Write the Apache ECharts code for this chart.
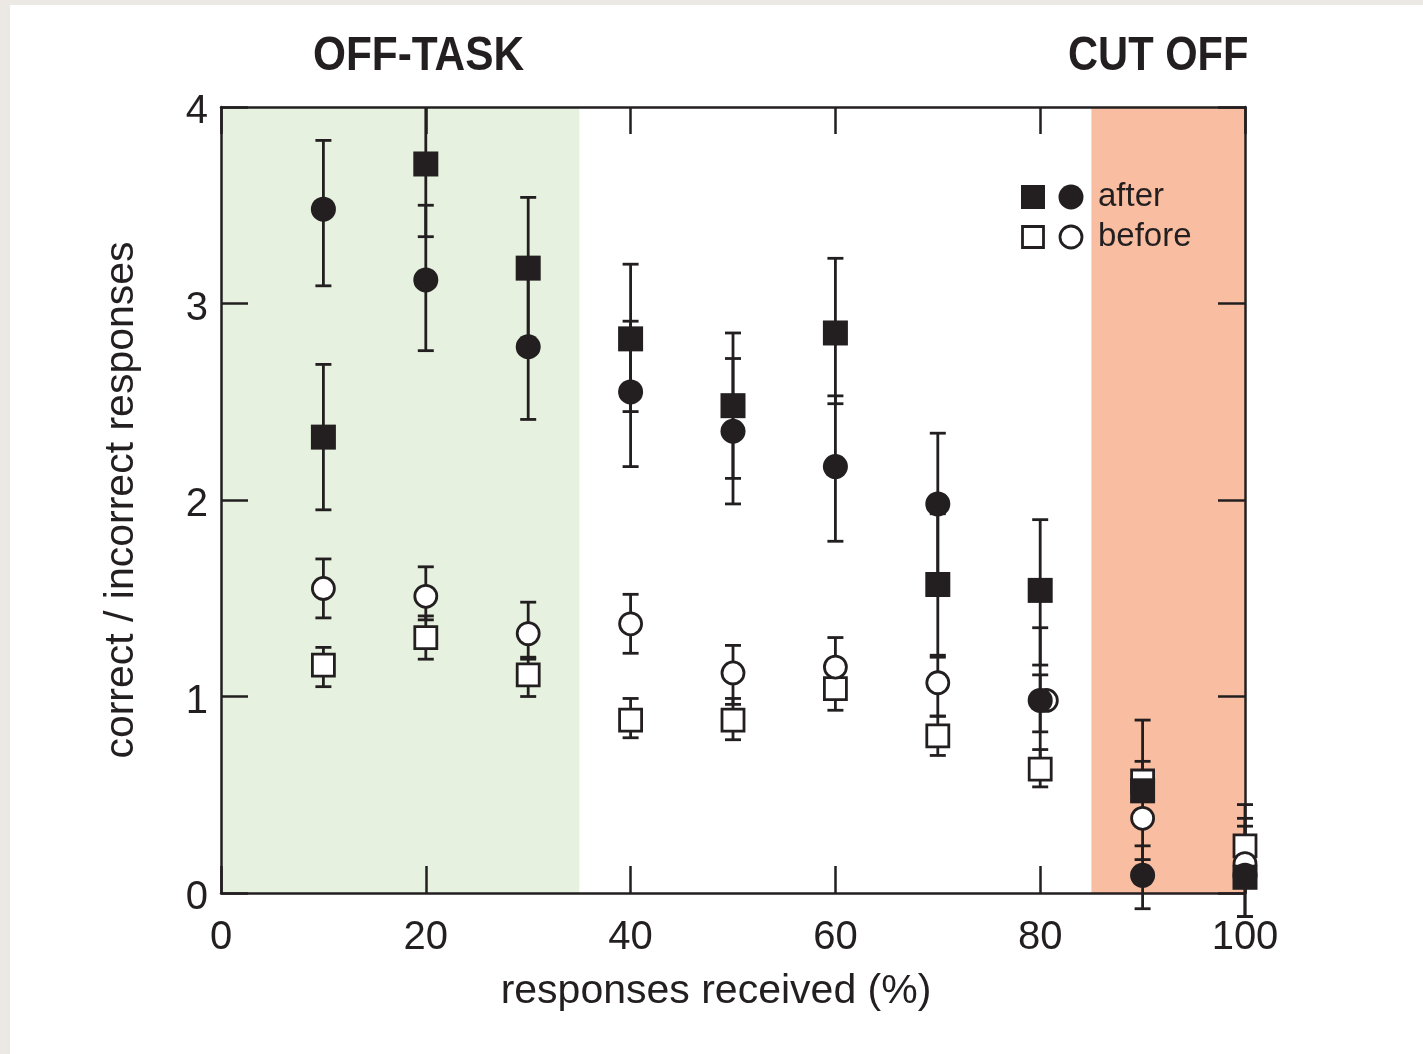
<!DOCTYPE html>
<html>
<head>
<meta charset="utf-8">
<script src="https://cdn.jsdelivr.net/npm/echarts@6/dist/echarts.min.js"></script>
<style>
html,body{margin:0;padding:0;background:#ffffff;}
#edgeL{position:absolute;left:0;top:0;width:10px;height:1054px;background:#ece9e4;}
#edgeT{position:absolute;left:0;top:0;width:1423px;height:5px;background:#ece9e4;}
#chart{position:absolute;left:0;top:0;width:1423px;height:1054px;}
</style>
</head>
<body>
<div id="edgeL"></div><div id="edgeT"></div>
<div id="chart"></div>
<script>
// ---- data ----
const xCats = [10, 20, 30, 40, 50, 60, 70, 80, 90, 100];
const xTicks = [0, 20, 40, 60, 80, 100];
const yTicks = [0, 1, 2, 3, 4];

// filled squares ("after")
const afterSq      = [2.32, 3.71, 3.18, 2.82, 2.48, 2.85, 1.57, 1.54, 0.52, 0.08];
const afterSqLow   = [1.95, 3.34, 2.81, 2.45, 2.11, 2.49, 1.21, 1.16, 0.17, -0.12];
const afterSqHigh  = [2.69, 4.00, 3.54, 3.20, 2.85, 3.23, 1.93, 1.90, 0.88, 0.28];

// filled circles ("after")
const afterCi      = [3.48, 3.12, 2.78, 2.55, 2.35, 2.17, 1.98, 0.98, 0.09, 0.09];
const afterCiLow   = [3.09, 2.76, 2.41, 2.17, 1.98, 1.79, 1.61, 0.61, -0.08, -0.12];
const afterCiHigh  = [3.83, 3.50, 3.14, 2.91, 2.72, 2.53, 2.34, 1.35, 0.24, 0.45];

// open squares ("before")
const beforeSq     = [1.16, 1.30, 1.11, 0.88, 0.88, 1.04, 0.80, 0.63, 0.57, 0.24];
const beforeSqLow  = [1.05, 1.19, 1.00, 0.79, 0.78, 0.93, 0.70, 0.54, 0.47, 0.14];
const beforeSqHigh = [1.25, 1.41, 1.20, 0.99, 0.99, 1.14, 0.90, 0.73, 0.67, 0.34];

// open circles ("before"); marker at 80 % is drawn slightly right of its bar
const beforeCiX    = [10, 20, 30, 40, 50, 60, 70, 80.6, 90, 100];
const beforeCi     = [1.55, 1.51, 1.32, 1.37, 1.12, 1.15, 1.07, 0.98, 0.38, 0.15];
const beforeCiLow  = [1.40, 1.39, 1.19, 1.22, 0.96, 1.00, 0.90, 0.82, 0.35, 0.05];
const beforeCiHigh = [1.70, 1.66, 1.48, 1.52, 1.26, 1.30, 1.20, 1.11, 0.42, 0.38];

// shaded regions [from, to] on the x axis
const bandOffTask = [0, 35];
const bandCutOff = [85, 100];

const INK = '#231f20';
const FONT = '"Liberation Sans", Arial, Helvetica, sans-serif';

function pts(xs, ys) { return xs.map((x, i) => [x, ys[i]]); }
function errs(xs, lo, hi) { return xs.map((x, i) => [x, lo[i], hi[i]]); }

function errRender(params, api) {
  const x = api.value(0), lo = api.value(1), hi = api.value(2);
  const a = api.coord([x, hi]);
  const b = api.coord([x, lo]);
  const hw = 8;
  const st = { stroke: INK, lineWidth: 2.8 };
  const children = [
    { type: 'line', shape: { x1: a[0], y1: a[1], x2: b[0], y2: b[1] }, style: st },
    { type: 'line', shape: { x1: b[0] - hw, y1: b[1], x2: b[0] + hw, y2: b[1] }, style: st }
  ];
  if (hi < 4) children.push({ type: 'line', shape: { x1: a[0] - hw, y1: a[1], x2: a[0] + hw, y2: a[1] }, style: st });
  return { type: 'group', children };
}

function bandRender(params, api) {
  const x0 = api.value(0), x1 = api.value(1);
  const p0 = api.coord([x0, 4]);
  const p1 = api.coord([x1, 0]);
  return {
    type: 'rect',
    shape: { x: p0[0], y: p0[1], width: p1[0] - p0[0], height: p1[1] - p0[1] },
    style: { fill: api.value(2) === 0 ? '#e6f2df' : '#f9bea1' }
  };
}

function errSeries(xs, lo, hi) {
  return {
    type: 'custom', renderItem: errRender, clip: false, z: 2,
    encode: { x: 0, y: [1, 2] },
    data: errs(xs, lo, hi)
  };
}

const chart = echarts.init(document.getElementById('chart'), null, { renderer: 'canvas' });

const axisLine = { show: true, onZero: false, lineStyle: { color: INK, width: 2.5 } };
const axisTick = { show: true, inside: true, length: 27, lineStyle: { color: INK, width: 2.5 } };
const TITLE_FONT = 'bold 49px "Liberation Sans Narrow", "Arial Narrow", "Liberation Sans", Arial, sans-serif';

const option = {
  backgroundColor: 'transparent',
  animation: false,
  grid: { left: 221, right: 178, top: 107, bottom: 161 },
  xAxis: [
    {
      type: 'value', min: 0, max: 100, interval: 20, position: 'bottom', z: 1,
      axisLine, axisTick, splitLine: { show: false },
      axisLabel: { color: INK, fontSize: 40, fontFamily: FONT, margin: 25,
        formatter: v => xTicks.includes(v) ? String(v) : '' },
      name: 'responses received (%)', nameLocation: 'middle', nameGap: 78,
      nameTextStyle: { color: INK, fontSize: 41, fontFamily: FONT, padding: [0, 34, 0, 0] }
    },
    {
      type: 'value', min: 0, max: 100, interval: 20, position: 'top', z: 1,
      axisLine, axisTick, splitLine: { show: false }, axisLabel: { show: false }
    }
  ],
  yAxis: [
    {
      type: 'value', min: 0, max: 4, interval: 1, position: 'left', z: 1,
      axisLine, axisTick, splitLine: { show: false },
      axisLabel: { color: INK, fontSize: 40, fontFamily: FONT, margin: 13,
        formatter: v => yTicks.includes(v) ? '{v|' + v + '}' : '',
        rich: { v: { color: INK, fontSize: 40, fontFamily: FONT, padding: [10, 0, 0, 0] } } },
      name: 'correct / incorrect responses', nameLocation: 'middle', nameGap: 79,
      nameTextStyle: { color: INK, fontSize: 41, fontFamily: FONT }
    },
    {
      type: 'value', min: 0, max: 4, interval: 1, position: 'right', z: 1,
      axisLine, axisTick, splitLine: { show: false }, axisLabel: { show: false }
    }
  ],
  series: [
    {
      type: 'custom', renderItem: bandRender, z: 0, silent: true,
      encode: { x: [0, 1] },
      data: [[bandOffTask[0], bandOffTask[1], 0], [bandCutOff[0], bandCutOff[1], 1]]
    },
    errSeries(xCats, beforeSqLow, beforeSqHigh),
    errSeries(xCats, beforeCiLow, beforeCiHigh),
    errSeries(xCats, afterSqLow, afterSqHigh),
    errSeries(xCats, afterCiLow, afterCiHigh),
    {
      name: 'before-sq', type: 'scatter', clip: false, z: 3, symbol: 'rect', symbolSize: 22,
      itemStyle: { color: '#ffffff', borderColor: INK, borderWidth: 2.8, opacity: 1 },
      data: pts(xCats, beforeSq)
    },
    {
      name: 'before-ci', type: 'scatter', clip: false, z: 4, symbol: 'circle', symbolSize: 22,
      itemStyle: { color: '#ffffff', borderColor: INK, borderWidth: 2.8, opacity: 1 },
      data: pts(beforeCiX, beforeCi)
    },
    {
      name: 'after-sq', type: 'scatter', clip: false, z: 6, symbol: 'rect', symbolSize: 25,
      itemStyle: { color: INK, opacity: 1 },
      data: pts(xCats, afterSq)
    },
    {
      name: 'after-ci', type: 'scatter', clip: false, z: 5, symbol: 'circle', symbolSize: 25,
      itemStyle: { color: INK, opacity: 1 },
      data: pts(xCats, afterCi)
    }
  ],
  graphic: [
    { type: 'text', x: 313, y: 32, scaleX: 0.865, z: 10,
      style: { text: 'OFF-TASK', fill: INK, font: TITLE_FONT } },
    { type: 'text', x: 1068, y: 32, scaleX: 0.85, z: 10,
      style: { text: 'CUT OFF', fill: INK, font: TITLE_FONT } },
    { type: 'rect', z: 10, shape: { x: 1021, y: 185, width: 24, height: 24 }, style: { fill: INK } },
    { type: 'circle', z: 10, shape: { cx: 1071, cy: 197, r: 12.5 }, style: { fill: INK } },
    { type: 'text', z: 10, x: 1098, y: 197, style: { text: 'after', fill: INK, font: '33px ' + FONT, verticalAlign: 'middle' } },
    { type: 'rect', z: 10, shape: { x: 1022.5, y: 226.5, width: 21, height: 21 }, style: { fill: '#ffffff', stroke: INK, lineWidth: 2.8 } },
    { type: 'circle', z: 10, shape: { cx: 1071, cy: 237, r: 11 }, style: { fill: '#ffffff', stroke: INK, lineWidth: 2.8 } },
    { type: 'text', z: 10, x: 1098, y: 237, style: { text: 'before', fill: INK, font: '33px ' + FONT, verticalAlign: 'middle' } }
  ]
};
chart.setOption(option);
</script>
</body>
</html>
